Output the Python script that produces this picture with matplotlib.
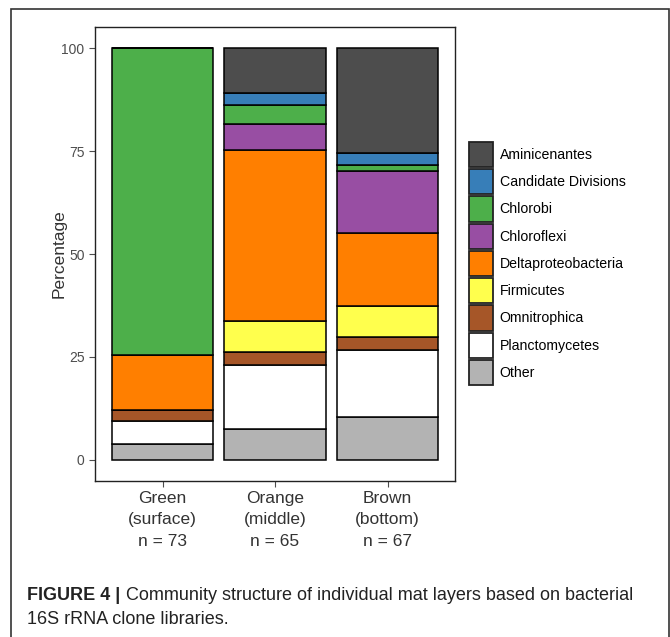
import matplotlib
matplotlib.use("Agg")
import matplotlib.pyplot as plt
from matplotlib.patches import Patch, Rectangle
import numpy as np

plt.rcParams['font.family'] = ['Liberation Sans', 'DejaVu Sans']

# Sample layers (x axis)
layers = ["Green\n(surface)\nn = 73", "Orange\n(middle)\nn = 65", "Brown\n(bottom)\nn = 67"]

# Taxa, stacked bottom to top
taxa = ["Other", "Planctomycetes", "Omnitrophica", "Firmicutes",
        "Deltaproteobacteria", "Chloroflexi", "Chlorobi",
        "Candidate Divisions", "Aminicenantes"]

# Percentage of clones per taxon in each layer (Green, Orange, Brown)
other = [3.9, 7.6, 10.4]
planctomycetes = [5.5, 15.4, 16.4]
omnitrophica = [2.7, 3.1, 3.0]
firmicutes = [0.0, 7.7, 7.5]
deltaproteobacteria = [13.5, 41.5, 17.9]
chloroflexi = [0.0, 6.2, 14.9]
chlorobi = [74.4, 4.6, 1.5]
candidate_divisions = [0.0, 3.1, 3.0]
aminicenantes = [0.0, 10.8, 25.4]

series = [other, planctomycetes, omnitrophica, firmicutes, deltaproteobacteria,
          chloroflexi, chlorobi, candidate_divisions, aminicenantes]

colors = {
    "Aminicenantes": "#4d4d4d",
    "Candidate Divisions": "#377eb8",
    "Chlorobi": "#4daf4a",
    "Chloroflexi": "#984ea3",
    "Deltaproteobacteria": "#ff7f00",
    "Firmicutes": "#ffff4d",
    "Omnitrophica": "#a65628",
    "Planctomycetes": "#ffffff",
    "Other": "#b3b3b3",
}

W, H = 670, 637
fig = plt.figure(figsize=(W / 100, H / 100), dpi=100)

def px(x0, y0, x1, y1):
    return [x0 / W, 1 - y1 / H, (x1 - x0) / W, (y1 - y0) / H]

# outer figure frame
frame = Rectangle((11 / W, -0.05), 658 / W, 1 - 9 / H + 0.05, transform=fig.transFigure,
                  fill=False, edgecolor="#333333", linewidth=1.2, clip_on=False)
fig.patches.append(frame)

ax = fig.add_axes(px(95, 27, 455, 481))
x = np.arange(1, len(layers) + 1)
bottom = np.zeros(len(layers))
for name, vals in zip(taxa, series):
    vals = np.array(vals)
    ax.bar(x, vals, width=0.9, bottom=bottom, color=colors[name],
           edgecolor="black", linewidth=1.1)
    bottom += vals

ax.set_xlim(0.4, 3.6)
ax.set_ylim(-5.1, 105.1)
ax.set_yticks([0, 25, 50, 75, 100])
ax.set_xticks(x)
ax.set_xticklabels(layers, fontsize=12.5, color="#333333", linespacing=1.55)
ax.tick_params(axis="y", labelsize=10, colors="#4d4d4d", length=4, width=0.8, labelcolor="#4d4d4d")
ax.tick_params(axis="x", length=4, width=0.8, colors="#4d4d4d", labelcolor="#333333", pad=3)
ax.set_ylabel("Percentage", fontsize=12.5, color="#333333", labelpad=-3.5)
for s in ax.spines.values():
    s.set_color("#222222")
    s.set_linewidth(1.0)

handles = [Patch(facecolor=colors[t], edgecolor="#222222", linewidth=1.3)
           for t in reversed(taxa)]
leg = fig.legend(handles, list(reversed(taxa)), loc="upper left",
                 bbox_to_anchor=(469 / W, 1 - 142 / H), frameon=False,
                 fontsize=10.2, handlelength=1.72, handleheight=2.35,
                 labelspacing=0.15, handletextpad=0.45, borderaxespad=0,
                 borderpad=0)

fig.text(27 / W, 1 - 595 / H, "FIGURE 4 |", fontsize=13, fontweight="bold",
         color="#222222", va="center", ha="left")
fig.text(126 / W, 1 - 595 / H, "Community structure of individual mat layers based on bacterial",
         fontsize=13, color="#222222", va="center", ha="left")
fig.text(27 / W, 1 - 620 / H, "16S rRNA clone libraries.", fontsize=13,
         color="#222222", va="center", ha="left")

fig.savefig("out.png", dpi=100)
